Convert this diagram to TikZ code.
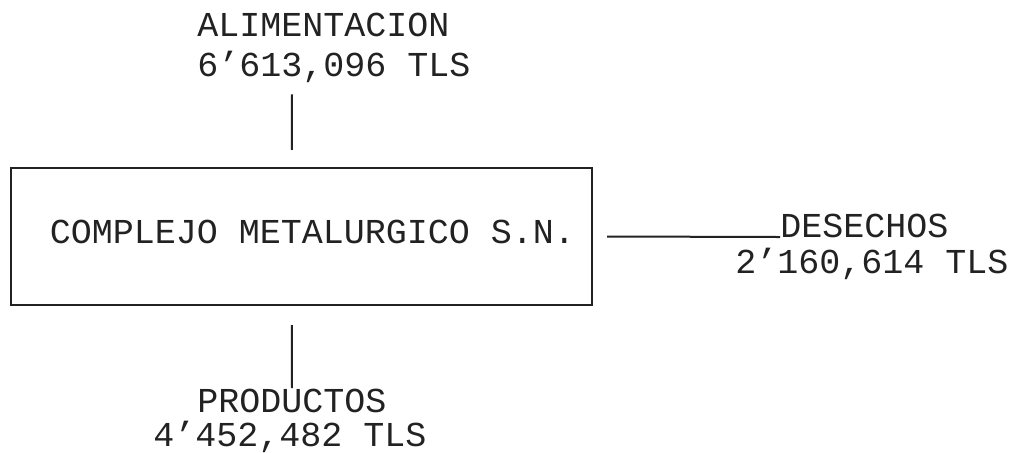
\documentclass[tikz,border=0pt]{standalone}
\usepackage{fontspec}
\setmonofont{Liberation Mono}
\usetikzlibrary{positioning,calc}
\definecolor{ink}{HTML}{222222}
\tikzset{
  every node/.style={font=\ttfamily\fontsize{17.5}{20}\selectfont,text=ink,inner sep=0pt},
  plant/.style={draw=ink,line width=1.2pt,minimum width=290.5pt,minimum height=68.5pt},
  tag/.style={align=left},
  flow/.style={draw=ink,line width=1pt},
}

\begin{document}
\begin{tikzpicture}[x=0.5pt,y=-0.5pt]
\useasboundingbox (0,0) rectangle (1018,452);

\node[plant] (box) at (301.5,236.5) {\hspace{11pt}\raisebox{5pt}{COMPLEJO METALURGICO S.N.}};

\node[tag,anchor=north west] (alim) at (197,13) {ALIMENTACION\\6’613,096 TLS};

\node[anchor=base west] (des) at (780,237) {DESECHOS};
\node[anchor=base west] (desqty) at ($(des.base west)+(-45,36)$) {2’160,614 TLS};

\node[anchor=base west] (prod) at (197,412) {PRODUCTOS};
\node[anchor=base west] (prodqty) at ($(prod.base west)+(-44,34)$) {4’452,482 TLS};

\draw[flow] ($(alim.south west)+(95,11)$) -- ($(box.north west)+(282,-17)$);
\draw[flow] ($(box.east)+(14,0)$) -- (des.base west);
\draw[flow] ($(box.south west)+(282,19)$) -- ($(prod.north west)+(95,0)$);

\end{tikzpicture}
\end{document}
